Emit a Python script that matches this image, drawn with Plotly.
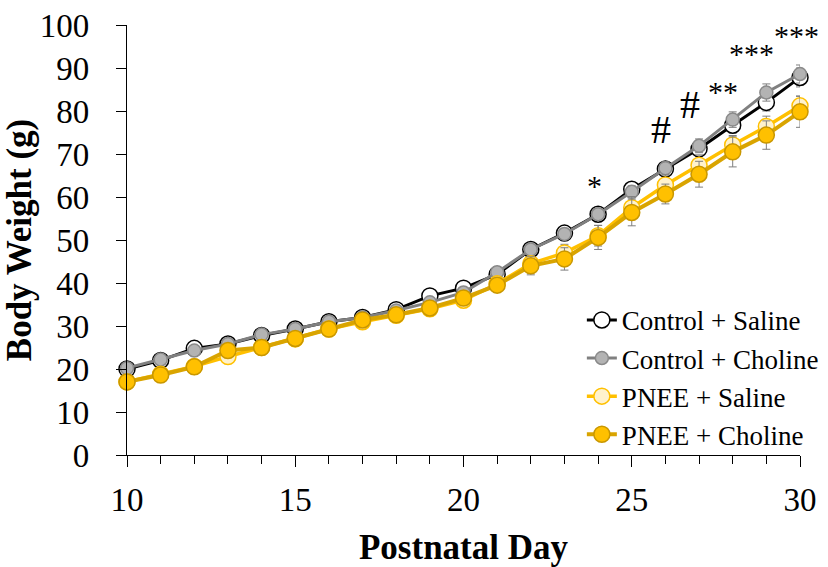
import plotly.graph_objects as go

# Postnatal days sampled
days = list(range(10, 31))

# Mean body weight (g) per group
control_saline = [20.0, 22.0, 24.8, 25.8, 27.8, 29.3, 31.0, 32.0, 33.8, 37.0, 38.8,
                  42.0, 47.8, 51.6, 56.0, 61.8, 66.5, 71.2, 76.7, 82.0, 87.8]
control_choline = [20.2, 22.2, 24.3, 25.8, 28.0, 29.3, 31.0, 32.0, 33.6, 35.5, 37.8,
                   42.5, 47.8, 51.4, 56.0, 61.2, 66.7, 71.9, 78.0, 84.3, 88.6]
pnee_saline = [17.0, 18.8, 20.6, 22.9, 25.0, 27.0, 29.3, 31.0, 32.5, 34.0, 36.0,
               39.8, 44.5, 47.0, 51.0, 57.5, 62.8, 67.4, 72.1, 76.4, 81.2]
pnee_choline = [17.0, 18.6, 20.5, 24.3, 25.0, 27.1, 29.3, 31.4, 32.6, 34.2, 36.5,
                39.5, 44.0, 45.6, 50.6, 56.4, 60.7, 65.3, 70.5, 74.4, 79.8]

# Standard error of the mean
control_saline_sem = [0.6, 0.6, 0.7, 0.7, 0.8, 0.8, 0.8, 0.9, 0.9, 1.0, 1.0,
                      1.1, 1.2, 1.2, 1.3, 1.4, 1.5, 1.6, 1.8, 2.0, 2.2]
control_choline_sem = [0.6, 0.6, 0.7, 0.7, 0.8, 0.8, 0.8, 0.9, 0.9, 1.0, 1.0,
                       1.1, 1.2, 1.2, 1.3, 1.4, 1.5, 1.6, 1.8, 2.0, 2.1]
pnee_saline_sem = [0.6, 0.6, 0.7, 0.8, 0.8, 0.9, 0.9, 1.0, 1.0, 1.1, 1.2,
                   1.4, 1.8, 2.0, 2.4, 2.6, 2.3, 2.4, 2.2, 2.4, 2.3]
pnee_choline_sem = [0.6, 0.6, 0.7, 0.8, 0.8, 0.9, 0.9, 1.0, 1.0, 1.1, 1.3,
                    1.6, 2.1, 2.6, 2.8, 3.1, 2.3, 3.0, 3.5, 3.3, 3.6]

# Significance markers: (day, y position, text, font size)
sig_days = [23.9, 25.88, 26.74, 27.72, 28.56, 29.9]
sig_y = [62.6, 75.6, 81.4, 84.6, 93.4, 97.6]
sig_text = ["*", "#", "#", "**", "***", "***"]
sig_size = [30, 40, 40, 30, 30, 30]

FONT = "Liberation Serif"

series = [
    ("Control + Saline", control_saline, control_saline_sem,
     dict(line_color="#000000", line_width=3, fill="#ffffff", edge="#000000", size=16)),
    ("Control + Choline", control_choline, control_choline_sem,
     dict(line_color="#808080", line_width=3, fill="#b3b3b3", edge="#8a8a8a", size=13)),
    ("PNEE + Saline", pnee_saline, pnee_saline_sem,
     dict(line_color="#ffc000", line_width=3.5, fill="#fff2cc", edge="#ffc000", size=16)),
    ("PNEE + Choline", pnee_choline, pnee_choline_sem,
     dict(line_color="#d9a400", line_width=4, fill="#ffc000", edge="#c99700", size=16)),
]

fig = go.Figure()
for name, vals, sem, st in series:
    fig.add_trace(go.Scatter(
        x=days, y=vals, name=name, mode="lines+markers",
        line=dict(color=st["line_color"], width=st["line_width"]),
        marker=dict(size=st["size"], color=st["fill"],
                    line=dict(color=st["edge"], width=1.5)),
        error_y=dict(type="data", array=sem, visible=True,
                     color="#7f7f7f", thickness=1, width=4),
        cliponaxis=False,
    ))

for d, yv, t, s in zip(sig_days, sig_y, sig_text, sig_size):
    fig.add_annotation(x=d, y=yv, text=t, showarrow=False,
                       font=dict(family=FONT, size=s, color="#000000"),
                       xanchor="center", yanchor="middle")

fig.update_layout(
    width=828, height=567,
    margin=dict(l=127, r=28, t=25, b=112, autoexpand=False),
    paper_bgcolor="#ffffff", plot_bgcolor="#ffffff",
    font=dict(family=FONT, color="#000000"),
    showlegend=True,
    legend=dict(
        xref="container", x=0.995, xanchor="right", y=0.37, yanchor="top",
        bgcolor="rgba(0,0,0,0)", font=dict(family=FONT, size=27, color="#000000"),
        itemwidth=30, tracegroupgap=0,
    ),
)

fig.update_xaxes(
    range=[10, 30], dtick=5, tick0=10, automargin=False,
    showgrid=False, zeroline=False,
    showline=True, linecolor="#000000", linewidth=1.3,
    ticks="outside", ticklen=11, tickwidth=1.3, tickcolor="#000000",
    minor=dict(dtick=1, ticks="outside", ticklen=8, tickwidth=1.3, tickcolor="#000000"),
    tickfont=dict(family=FONT, size=33, color="#000000"),
    ticklabelstandoff=4,
    title=dict(text="<b>Postnatal Day</b>", font=dict(family=FONT, size=35, color="#000000"),
               standoff=20),
)
fig.update_yaxes(
    range=[0, 100], dtick=10, automargin=False,
    showgrid=False, zeroline=False,
    showline=True, linecolor="#000000", linewidth=1.3,
    ticks="outside", ticklen=10, tickwidth=1.3, tickcolor="#000000",
    tickfont=dict(family=FONT, size=33, color="#000000"),
    ticklabelstandoff=20,
    title=dict(text="<b>Body Weight (g)</b>", font=dict(family=FONT, size=35, color="#000000"),
               standoff=4),
)

fig.write_html("out.html")
